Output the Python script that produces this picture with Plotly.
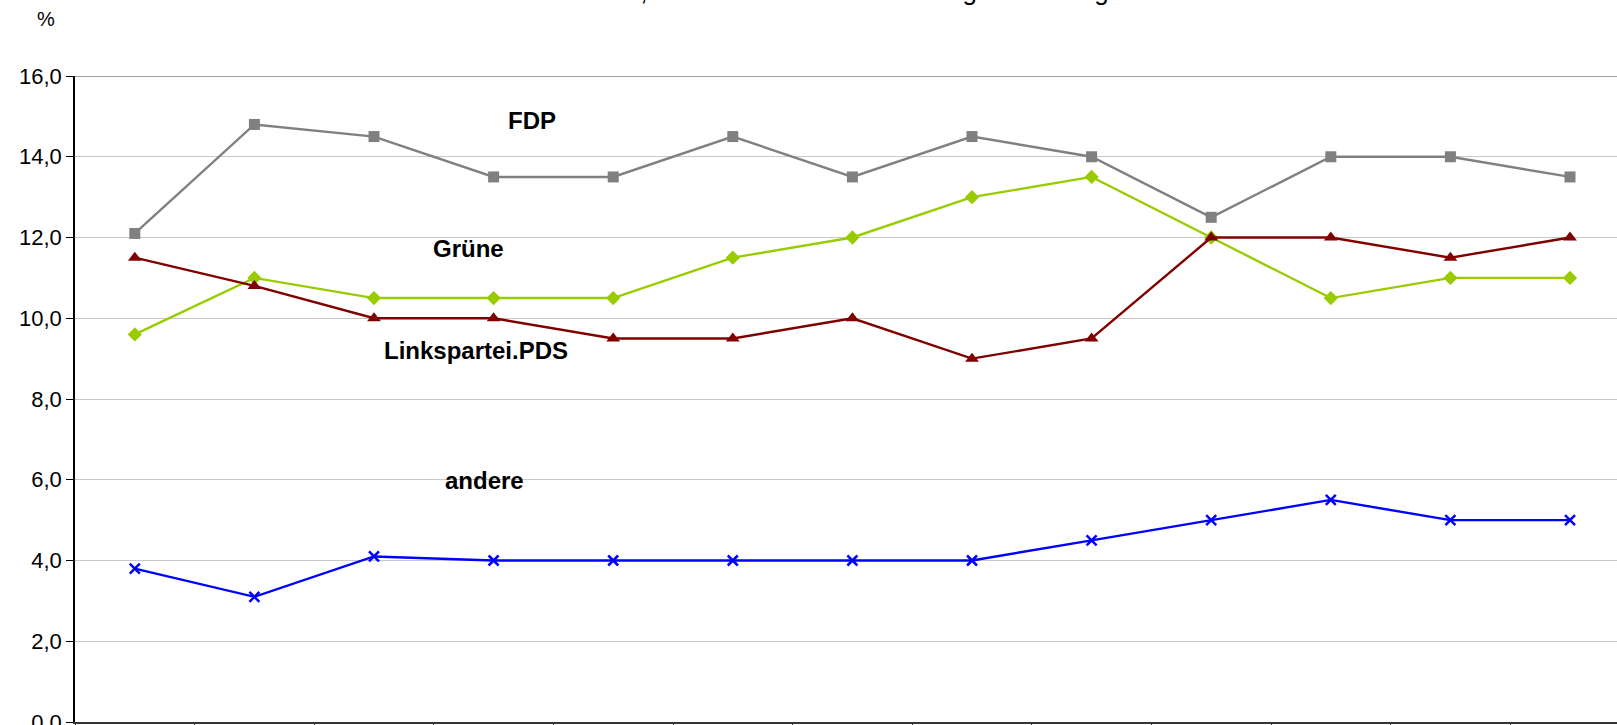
import plotly.graph_objects as go

# ---- data ----
months = ["Aug 05", "Sep 05", "Okt 05", "Nov 05", "Dez 05", "Jan 06", "Feb 06",
          "Mrz 06", "Apr 06", "Mai 06", "Jun 06", "Jul 06", "Aug 06"]
fdp = [12.1, 14.8, 14.5, 13.5, 13.5, 14.5, 13.5, 14.5, 14.0, 12.5, 14.0, 14.0, 13.5]
gruene = [9.6, 11.0, 10.5, 10.5, 10.5, 11.5, 12.0, 13.0, 13.5, 12.0, 10.5, 11.0, 11.0]
linke = [11.5, 10.8, 10.0, 10.0, 9.5, 9.5, 10.0, 9.0, 9.5, 12.0, 12.0, 11.5, 12.0]
andere = [3.8, 3.1, 4.1, 4.0, 4.0, 4.0, 4.0, 4.0, 4.5, 5.0, 5.5, 5.0, 5.0]
y_ticks = [0, 2, 4, 6, 8, 10, 12, 14, 16]
title_text = "Welche Partei würden Sie wählen, wenn am nächsten Sonntag Bundestagswahl wäre"

FONT = "Liberation Sans, Arial, sans-serif"

W, H = 1617, 725
ML, MR, MT, MB = 75, 0, 76, 3
plot_w = W - ML - MR
plot_h = H - MT - MB
cat_w = 119.6
x_end = -0.5 + plot_w / cat_w

fig = go.Figure()

series = [
    ("FDP", fdp, "#808080", "square", 11, 2.4),
    ("Grüne", gruene, "#99CC00", "diamond", 11, 2.4),
    ("Linkspartei.PDS", linke, "#800000", "triangle-up", 12, 2.4),
    ("andere", andere, "#0000FF", "x-thin", 10, 2.4),
]
for name, vals, col, sym, sz, lw in series:
    marker = dict(symbol=sym, size=sz, color=col)
    if sym == "x-thin":
        marker["line"] = dict(color=col, width=2.5)
    fig.add_trace(go.Scatter(
        x=months, y=vals, mode="lines+markers", name=name,
        line=dict(color=col, width=lw), marker=marker, showlegend=False,
    ))

# series labels (placed near their lines)
labels = [("FDP", 3.32, 14.91), ("Grüne", 2.79, 11.72),
          ("Linkspartei.PDS", 2.853, 9.21), ("andere", 2.92, 5.98)]
for txt, lx, ly in labels:
    fig.add_annotation(x=lx, y=ly, xref="x", yref="y", text="<b>%s</b>" % txt, showarrow=False,
                       font=dict(family=FONT, size=24, color="black"),
                       xanchor="center", yanchor="middle")

# % unit label
fig.add_annotation(x=(46 - ML) / plot_w, y=(H - MB - 18.5) / plot_h, xref="paper", yref="paper",
                   text="%", showarrow=False, font=dict(family=FONT, size=20, color="black"),
                   xanchor="center", yanchor="middle")

# title (mostly cut off at top of the picture)
fig.add_annotation(x=(745 - ML) / plot_w, y=1 + (MT + 9) / plot_h, xref="paper", yref="paper",
                   text=title_text, showarrow=False,
                   font=dict(family=FONT, size=26, color="black"),
                   xanchor="center", yanchor="middle")

# top border of plot area
fig.add_shape(type="line", xref="paper", yref="y", x0=0, x1=1, y0=16, y1=16,
              line=dict(color="#808080", width=1.5))

fig.update_layout(
    width=W, height=H,
    margin=dict(l=ML, r=MR, t=MT, b=MB, pad=0, autoexpand=False),
    paper_bgcolor="white", plot_bgcolor="white",
    separators=",.",
    font=dict(family=FONT, size=22, color="black"),
    xaxis=dict(
        type="category", range=[-0.5, x_end], tickson="boundaries",
        ticks="outside", ticklen=7, tickcolor="#333333", tickwidth=1,
        showline=True, linecolor="#333333", linewidth=2,
        showgrid=False, zeroline=False, automargin=False,
        ticklabelstandoff=12, tickfont=dict(size=22),
    ),
    yaxis=dict(
        range=[0, 16], tickvals=y_ticks, tickformat=".1f",
        ticks="outside", ticklen=7, tickcolor="black", tickwidth=1,
        showline=True, linecolor="black", linewidth=1.5,
        showgrid=True, gridcolor="#C8C8C8", gridwidth=1,
        zeroline=False, automargin=False, ticklabeloverflow="allow",
        tickfont=dict(size=22),
    ),
)

fig.write_html("out.html", config={"displayModeBar": False},
               post_script="document.body.style.margin='0';document.body.style.overflow='hidden';")
